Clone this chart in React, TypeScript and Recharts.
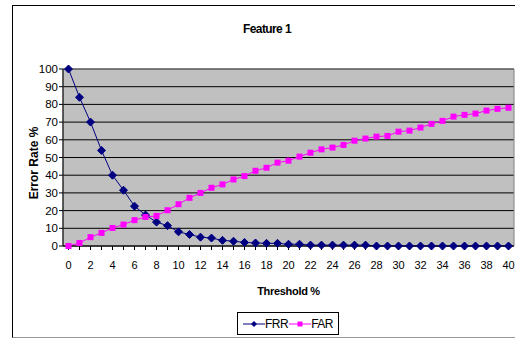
import { LineChart, Line, XAxis, YAxis, CartesianGrid, ReferenceArea } from "recharts";

const thresholds = [0, 1, 2, 3, 4, 5, 6, 7, 8, 9, 10, 11, 12, 13, 14, 15, 16, 17, 18, 19, 20, 21, 22, 23, 24, 25, 26, 27, 28, 29, 30, 31, 32, 33, 34, 35, 36, 37, 38, 39, 40];
const frr = [100, 84, 70, 54, 40, 31.5, 22.5, 17.5, 13.5, 11.5, 8, 6.5, 5, 4.5, 3.2, 2.7, 2, 1.7, 1.5, 1.5, 1, 1, 0.5, 0.5, 0.5, 0.5, 0.5, 0.5, 0, 0, 0, 0, 0, 0, 0, 0, 0, 0, 0, 0, 0];
const far = [0, 1.7, 5, 7.4, 10.2, 12.1, 14.6, 16.4, 17, 20.2, 23.6, 27.2, 30, 32.9, 34.8, 37.6, 39.5, 42.5, 44.2, 47.1, 48.2, 50.5, 52.7, 54.6, 55.6, 57.1, 59.5, 60.7, 61.8, 62.2, 64.6, 65.2, 66.9, 69, 70.7, 73.1, 74.1, 74.8, 76.5, 77.5, 78.1];
const yTicks = [0, 10, 20, 30, 40, 50, 60, 70, 80, 90, 100];

const data = thresholds.map((t, i) => ({ t, frr: frr[i], far: far[i] }));

const NAVY = "#000080";
const MAGENTA = "#FF00FF";
const FONT = "'Liberation Sans', Arial, sans-serif";

function Diamond(props: any) {
  const { cx, cy } = props;
  if (cx == null || cy == null) return null;
  return <polygon points={`${cx},${cy - 4} ${cx + 4},${cy} ${cx},${cy + 4} ${cx - 4},${cy}`} fill={NAVY} stroke={NAVY} />;
}

function Square(props: any) {
  const { cx, cy } = props;
  if (cx == null || cy == null) return null;
  return <rect x={cx - 3} y={cy - 3} width={6} height={6} fill={MAGENTA} />;
}

export default function App() {
  return (
    <div style={{ position: "absolute", left: 0, top: 0, width: 515, height: 339, background: "#fff", fontFamily: FONT }}>
      <div
        style={{
          position: "absolute",
          left: 12,
          top: 5,
          width: 520,
          height: 331,
          borderLeft: "1px solid #000",
          borderTop: "1px solid #000",
          borderBottom: "1px solid #999",
        }}
      />
      <div
        style={{
          position: "absolute",
          left: 0,
          width: 534,
          top: 22,
          textAlign: "center",
          fontSize: 12,
          fontWeight: "bold",
          letterSpacing: -0.6,
        }}
      >
        Feature 1
      </div>
      <div style={{ position: "absolute", left: 0, top: 0 }}>
        <LineChart width={515} height={339} data={data} margin={{ top: 69, right: 1, bottom: 63, left: 0 }}>
          <CartesianGrid fill="#C0C0C0" stroke="#000" vertical={false} horizontalValues={yTicks} />
          <ReferenceArea x1={-0.5} x2={40.5} y1={0} y2={100} fill="none" stroke="#808080" ifOverflow="visible" />
          <XAxis
            type="number"
            dataKey="t"
            domain={[-0.5, 40.5]}
            ticks={thresholds}
            interval={0}
            tickFormatter={(v: number) => (v % 2 === 0 ? String(v) : "")}
            height={30}
            tickSize={4}
            tickMargin={11}
            stroke="#000"
            tick={{ fill: "#000", fontSize: 11, fontFamily: FONT }}
            label={{
              value: "Threshold %",
              position: "bottom",
              offset: 11,
              fill: "#000",
              fontSize: 11,
              fontWeight: "bold",
              fontFamily: FONT,
              letterSpacing: -0.3,
            }}
          />
          <YAxis
            domain={[0, 100]}
            ticks={yTicks}
            interval={0}
            width={63}
            tickSize={4}
            tickMargin={1}
            stroke="#000"
            tick={{ fill: "#000", fontSize: 11.5, fontFamily: FONT }}
            label={{
              content: () => (
                <text
                  x={34}
                  y={163}
                  transform="rotate(-90 34 163)"
                  textAnchor="middle"
                  dominantBaseline="central"
                  fontSize={12}
                  fontWeight="bold"
                  fontFamily={FONT}
                  fill="#000"
                >
                  Error Rate %
                </text>
              ),
            }}
          />
          <Line dataKey="frr" name="FRR" stroke={NAVY} strokeWidth={1} dot={<Diamond />} isAnimationActive={false} />
          <Line dataKey="far" name="FAR" stroke={MAGENTA} strokeWidth={1} dot={<Square />} isAnimationActive={false} />
        </LineChart>
      </div>
      <div
        style={{
          position: "absolute",
          left: 237,
          top: 312,
          width: 100,
          height: 21,
          border: "1px solid #000",
          display: "flex",
          alignItems: "center",
          justifyContent: "center",
          fontSize: 12,
          letterSpacing: -0.5,
        }}
      >
        <svg width={22} height={10}>
          <line x1={0} y1={5} x2={22} y2={5} stroke={NAVY} />
          <polygon points="11,2 14,5 11,8 8,5" fill={NAVY} />
        </svg>
        <span>FRR</span>
        <svg width={22} height={10} style={{ marginLeft: 1 }}>
          <line x1={0} y1={5} x2={22} y2={5} stroke={MAGENTA} />
          <rect x={8.5} y={2.5} width={5} height={5} fill={MAGENTA} />
        </svg>
        <span>FAR</span>
      </div>
    </div>
  );
}
